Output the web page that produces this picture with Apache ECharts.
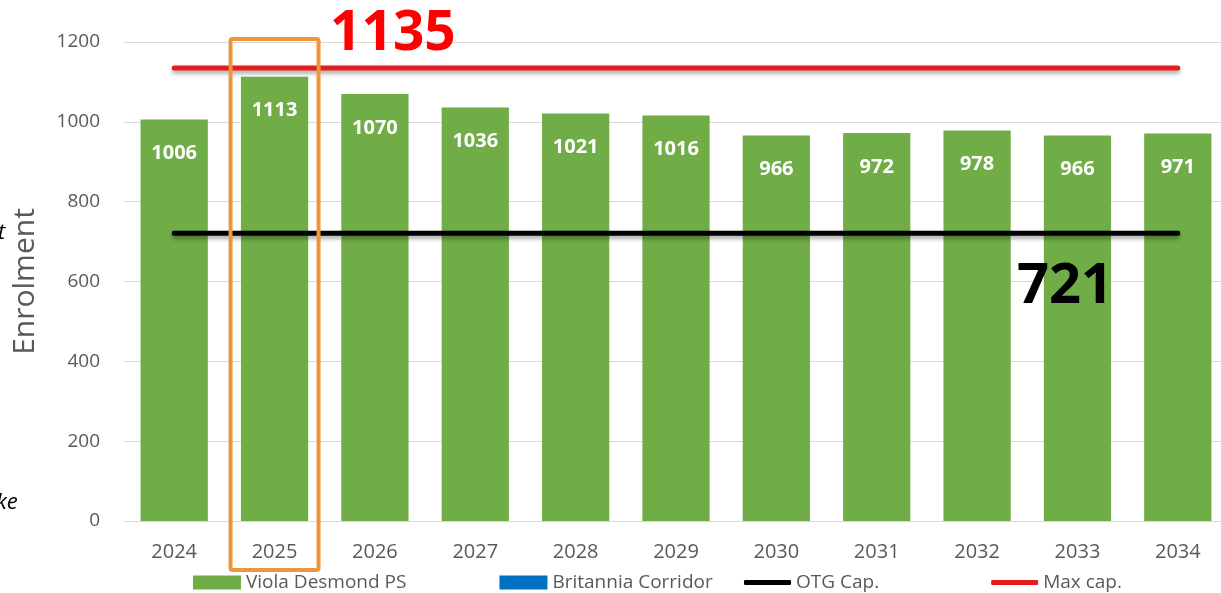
<!DOCTYPE html>
<html>
<head>
<meta charset="utf-8">
<script src="https://cdn.jsdelivr.net/npm/echarts@6/dist/echarts.min.js"></script>
<style>
  html, body { margin: 0; padding: 0; background: #fff; }
  #chart { width: 1221px; height: 593px; }
</style>
</head>
<body>
<div id="chart"></div>
<script>
/* enrolment projection — bars + capacity lines */
var years = ['2024', '2025', '2026', '2027', '2028', '2029', '2030', '2031', '2032', '2033', '2034'];
var violaDesmond = [1006, 1113, 1070, 1036, 1021, 1016, 966, 972, 978, 966, 971];
var britannia = [];
var otgCap = [721, 721, 721, 721, 721, 721, 721, 721, 721, 721, 721];
var maxCap = [1135, 1135, 1135, 1135, 1135, 1135, 1135, 1135, 1135, 1135, 1135];
var yTicks = { min: 0, max: 1200, interval: 200 };

(function () {
  var green = '#70ad47', blue = '#0070c0', grey = '#595959', rule = '#d9d9d9';
  var font = 'Open Sans';
  var el = document.getElementById('chart');
  var c = echarts.init(el, null, { renderer: 'canvas' });

  var lineShadow = { shadowBlur: 4, shadowColor: 'rgba(0,0,0,0.35)', shadowOffsetY: 3 };
  var legendText = { color: grey, fontSize: 19, fontFamily: font };

  c.setOption({
    animation: false,
    grid: { left: 124, width: 1104, top: 42, bottom: 72, outerBoundsMode: 'none' },
    legend: [
      {
        top: 568, left: 188, itemGap: 93, itemWidth: 48, itemHeight: 14,
        textStyle: legendText, icon: 'rect',
        data: ['Viola Desmond PS', 'Britannia Corridor']
      },
      {
        top: 568, left: 739, itemGap: 112, itemWidth: 47, itemHeight: 5,
        textStyle: legendText, icon: 'roundRect',
        data: ['OTG Cap.', 'Max cap.']
      }
    ],
    xAxis: {
      type: 'category', data: years,
      axisLine: { show: false }, axisTick: { show: false },
      axisLabel: { color: grey, fontSize: 20, fontFamily: font, margin: 21 }
    },
    yAxis: {
      type: 'value', min: yTicks.min, max: yTicks.max, interval: yTicks.interval,
      name: 'Enrolment', nameLocation: 'middle', nameGap: 84, nameRotate: 90,
      nameTextStyle: { color: grey, fontSize: 30, fontFamily: font },
      axisLabel: { color: grey, fontSize: 19, fontFamily: font, margin: 24, formatter: function (v) { return String(v); } },
      splitLine: { lineStyle: { color: rule, width: 1 } }
    },
    series: [
      {
        name: 'Viola Desmond PS', type: 'bar', stack: 'e', data: violaDesmond, barWidth: '67%',
        itemStyle: { color: green },
        label: { show: true, position: 'insideTop', distance: 24, color: '#fff', fontWeight: 'bold', fontSize: 20, fontFamily: font }
      },
      { name: 'Britannia Corridor', type: 'bar', stack: 'e', data: britannia, itemStyle: { color: blue } },
      {
        name: 'OTG Cap.', type: 'line', data: otgCap, symbol: 'none', z: 5,
        lineStyle: Object.assign({ color: '#000', width: 5, cap: 'round' }, lineShadow),
        itemStyle: { color: '#000' }
      },
      {
        name: 'Max cap.', type: 'line', data: maxCap, symbol: 'none', z: 5,
        lineStyle: Object.assign({ color: '#e41c1c', width: 5, cap: 'round' }, lineShadow),
        itemStyle: { color: '#e41c1c' }
      }
    ]
  });

  var cx = c.convertToPixel({ xAxisIndex: 0 }, '2025');
  c.setOption({
    graphic: [
      { type: 'rect', shape: { x: cx - 44, y: 39, width: 88, height: 531, r: 2 },
        style: { fill: 'none', stroke: '#f0953a', lineWidth: 4 }, z: 10 },
      { type: 'text', x: 330, y: 7,
        style: { text: String(maxCap[0]), fill: '#ff0000', font: 'bold 55px "Open Sans"' }, z: 10 },
      { type: 'text', x: 1017, y: 259,
        style: { text: String(otgCap[0]), fill: '#000', font: 'bold 56px "Open Sans"',
          shadowBlur: 4, shadowColor: 'rgba(0,0,0,0.3)', shadowOffsetY: 3 }, z: 10 },
      { type: 'text', x: -2, y: 222,
        style: { text: 't', fill: '#000', font: 'italic 22px "Open Sans"' } },
      { type: 'text', x: -4, y: 492,
        style: { text: 'ke', fill: '#000', font: 'italic 22px "Open Sans"' } }
    ]
  });
  window.addEventListener('resize', function () { c.resize(); });
})();
</script>
</body>
</html>
